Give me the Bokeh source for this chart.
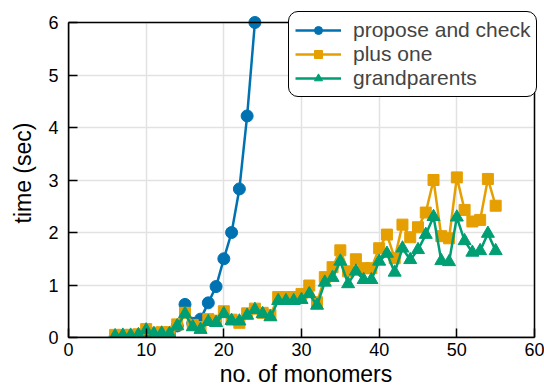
from bokeh.plotting import figure
from bokeh.models import Range1d, Legend, LegendItem, FixedTicker, BoxAnnotation
from bokeh.embed import file_html
from bokeh.resources import INLINE

# ---- data ----
pc_x = list(range(6, 25))
pc_y = [0.01, 0.01, 0.02, 0.02, 0.04, 0.04, 0.05, 0.06, 0.22, 0.63,
        0.27, 0.35, 0.66, 0.97, 1.50, 2.00, 2.83, 4.22, 6.00]

n_x = list(range(6, 56))
plus_one = [0.05, 0.05, 0.05, 0.06, 0.16, 0.09, 0.10, 0.10, 0.25, 0.47,
            0.24, 0.20, 0.35, 0.32, 0.50, 0.34, 0.28, 0.46, 0.55, 0.47,
            0.43, 0.77, 0.77, 0.77, 0.83, 0.99, 0.67, 1.15, 1.34, 1.66,
            1.26, 1.49, 1.32, 1.32, 1.70, 1.96, 1.51, 2.15, 1.91, 2.10,
            2.38, 3.00, 1.93, 1.89, 3.05, 2.43, 2.21, 2.24, 3.02, 2.51]
grandparents = [0.03, 0.04, 0.04, 0.05, 0.14, 0.07, 0.08, 0.07, 0.22, 0.45,
                0.20, 0.15, 0.30, 0.28, 0.45, 0.32, 0.31, 0.42, 0.53, 0.45,
                0.39, 0.70, 0.70, 0.70, 0.72, 0.83, 0.61, 1.05, 1.14, 1.45,
                1.02, 1.26, 1.10, 1.10, 1.45, 1.60, 1.24, 1.70, 1.48, 1.67,
                1.96, 2.30, 1.46, 1.44, 2.29, 1.84, 1.62, 1.65, 1.98, 1.65]

x_ticks = [0, 10, 20, 30, 40, 50, 60]
y_ticks = [0, 1, 2, 3, 4, 5, 6]
labels = ["propose and check", "plus one", "grandparents"]
colors = ["#0072B2", "#E69F00", "#009E73"]

FONT = "Liberation Sans"

# The drawing area extends a few pixels past the axis box (top and right) so
# the legend, which overhangs the box in the reference, is not clipped.
W, H = 544, 392
LEFT, RIGHT, TOP, BOTTOM = 68, 1, 8, 55
frame_w = W - LEFT - RIGHT
frame_h = H - TOP - BOTTOM
EXTRA_X, EXTRA_Y = 9, 14  # pixels of overhang beyond the axis box
x0, x1 = x_ticks[0], x_ticks[-1]
y0, y1 = y_ticks[0], y_ticks[-1]
x_end = x1 + (x1 - x0) * EXTRA_X / (frame_w - EXTRA_X)
y_end = y1 + (y1 - y0) * EXTRA_Y / (frame_h - EXTRA_Y)

p = figure(width=W, height=H, output_backend="svg", toolbar_location=None,
           x_range=Range1d(x0, x_end), y_range=Range1d(y0, y_end),
           min_border_left=LEFT, min_border_right=RIGHT, min_border_top=TOP,
           min_border_bottom=BOTTOM)

p.outline_line_color = None

for ax, ticks in ((p.xaxis[0], x_ticks), (p.yaxis[0], y_ticks)):
    ax.ticker = FixedTicker(ticks=ticks)
    ax.bounds = (ticks[0], ticks[-1])
    ax.major_tick_in = 9
    ax.major_tick_out = 0
    ax.minor_tick_in = 0
    ax.minor_tick_out = 0
    ax.major_tick_line_width = 1.5
    ax.major_tick_line_color = "black"
    ax.axis_line_color = "black"
    ax.axis_line_width = 1.5
    ax.major_label_text_font = FONT
    ax.major_label_text_font_size = "18px"
    ax.major_label_text_color = "black"
    ax.axis_label_text_font = FONT
    ax.axis_label_text_font_size = "23px"
    ax.axis_label_text_font_style = "normal"
    ax.axis_label_text_color = "black"

p.xaxis.axis_label = "no. of monomers"
p.yaxis.axis_label = "time (sec)"
p.xaxis.major_label_standoff = 5
p.xaxis.axis_label_standoff = 2
p.yaxis.major_label_standoff = 10
p.yaxis.axis_label_standoff = 9

p.xgrid.ticker = FixedTicker(ticks=x_ticks)
p.ygrid.ticker = FixedTicker(ticks=y_ticks)
p.xgrid.bounds = (x0, x1)
p.ygrid.bounds = (y0, y1)
p.xgrid.cross_bounds = (y0, y1)
p.ygrid.cross_bounds = (x0, x1)
p.grid.grid_line_color = "#e2e2e2"
p.grid.grid_line_width = 1.5

r1l = p.line(pc_x, pc_y, line_color=colors[0], line_width=2.5)
r1m = p.scatter(pc_x, pc_y, marker="circle", size=12, fill_color=colors[0],
                line_color=colors[0])
r2l = p.line(n_x, plus_one, line_color=colors[1], line_width=2.5)
r2m = p.scatter(n_x, plus_one, marker="square", size=11, fill_color=colors[1],
                line_color=colors[1])
r3l = p.line(n_x, grandparents, line_color=colors[2], line_width=2.5)
r3m = p.scatter(n_x, grandparents, marker="triangle", size=13,
                fill_color=colors[2], line_color=colors[2])

# axis box
box = BoxAnnotation(left=x0, right=x1, bottom=y0, top=y1,
                    fill_alpha=0, fill_color=None,
                    line_color="black", line_width=1.5, line_alpha=1.0)
p.add_layout(box)

legend = Legend(items=[
    LegendItem(label=labels[0], renderers=[r1l, r1m]),
    LegendItem(label=labels[1], renderers=[r2l, r2m]),
    LegendItem(label=labels[2], renderers=[r3l, r3m]),
], location=(220, 240), margin=0, padding=6, spacing=-1,
    glyph_width=46, glyph_height=20, label_height=20, label_standoff=12,
    label_text_font=FONT, label_text_font_size="21px",
    border_line_color="black", border_line_width=1.5, border_line_alpha=1.0,
    background_fill_color="white", background_fill_alpha=1.0,
    border_radius=10)
p.add_layout(legend, "center")

open("out.html", "w").write(file_html(p, INLINE))
